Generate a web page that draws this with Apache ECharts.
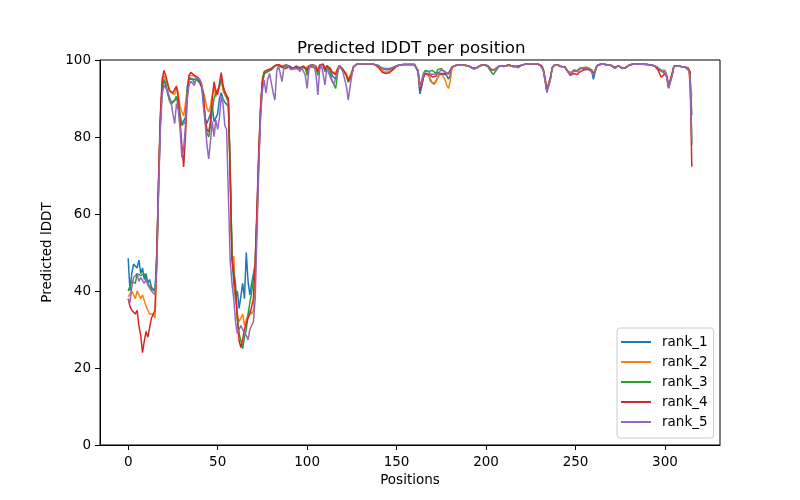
<!DOCTYPE html>
<html>
<head>
<meta charset="utf-8">
<script src="https://cdn.jsdelivr.net/npm/echarts@6/dist/echarts.min.js"></script>
<style>
html,body{margin:0;padding:0;background:#fff;}
#chart{width:800px;height:500px;}
</style>
</head>
<body>
<div id="chart"></div>
<script>
const seriesNames = ['rank_1','rank_2','rank_3','rank_4','rank_5'];
const colors = ['#1f77b4','#ff7f0e','#2ca02c','#d62728','#9467bd'];
const xTicks = [0,50,100,150,200,250,300];
const yTicks = [0,20,40,60,80,100];

const rank1 = [
48.5,40,44.5,47,47.5,46,48,44.5,46,43,
44.5,42,43,41,40.5,40,50,68,84,93,
94.5,93.5,91.5,90,89,88.5,89.5,90.5,88,85,
83.5,84,85,93,95.5,95.5,95,94.5,95,95,
94,93,90,85,83.5,84,86,88,84,83.5,
86,90,91.5,90,89,89,88,72,50,42,
38,40,35.5,36,42,38,50,42.5,39,42,
42,47,60,75,87,94,96.5,96.5,97,97.5,
97.5,97.5,98.5,98.8,98.8,98.5,98,98.5,98.7,98.7,
98.5,98,97.8,98,98.5,98.2,97.8,98.3,98.5,98,
97,98.5,98.8,98.8,98.5,98.3,96.5,98.5,98.8,98.8,
97,98.5,98.5,97.5,96,96.5,95,97.5,98.5,98.3,
97.5,97.3,96,94.5,95,96.5,98.3,98.8,99,99,
99,99,99,99,99,99,99,98.9,98.8,98.7,
98.5,98.2,97.8,97.5,97.5,97.3,97.5,97.7,98,98.3,
98.5,98.6,98.7,98.8,98.8,98.8,98.8,98.8,98.8,98.8,
98.8,98.7,97,91.2,93,95.5,96.5,97,96,94.5,
94,93.7,94,95.5,96.5,97,96.5,96,96,95,
96,98,98.5,98.6,98.7,98.7,98.7,98.7,98.6,98.6,
98.5,98.3,98,97.8,97.6,98,98.5,98.6,98.7,98.7,
98.7,98.5,98,97.4,97.3,97.5,98,98.3,98.5,98.5,
98.3,98.5,98.6,98.7,98.5,98.3,98.5,98.3,98,98.5,
98.7,98.8,98.9,99,99,99,99,99,99,98.9,
98.8,98.5,97.5,95,92,91.5,95.5,98,98.6,98.7,
98.7,98.5,98.3,98.5,98.2,97.5,97,96.2,96.5,97.2,
97.2,97,97.5,98,97.8,97.5,98,97.7,97.5,97.3,
95,97,98.5,98.8,98.9,98.9,98.9,98.8,98.7,98.6,
98.6,98.5,98,97.6,98.5,98.3,97.8,97.7,98,98.5,
98.7,98.8,98.9,98.9,98.9,98.9,98.9,98.9,98.9,98.8,
98.8,98.7,98.7,98.6,98.5,98.3,98,97.5,97.3,96.8,
97.3,96,93,92.5,96,98.4,98.5,98.5,98.4,98.3,
98,98.2,98.2,97.5,96.5,85.7
];

const rank2 = [
38.5,38,40,39.5,38,40,39,38,39,37.5,
36,35,34,33.5,34,33,47,68,85,94,
96,95.5,94,92.5,91.5,92,91,93,91.5,88,
86.5,85.5,86,92,96,96.5,96,95.5,95.5,95,
94.5,93.5,93,90,87.5,86.5,88,91,93,90.5,
90,93,95.5,92,91,91,89,70,48,49,
38,34,32,33,34,31,32.5,32,35,34,
35,45,58,74,87,94,96.5,96.5,97.3,97.5,
97.5,97.8,98.5,98.8,98.8,98.7,98.5,98.6,98.7,98.6,
98.3,97.8,97.5,98,98.3,98,97.5,98.2,98.3,98,
97.5,98.5,98.8,98.8,98.6,98.5,97.5,98.5,98.8,98.8,
97.5,98.5,98.5,97.8,96.8,96.5,96.8,97.8,98.5,98.3,
97.5,97.3,96.5,95,95.5,97,98.3,98.8,99,99,
99,99,99,99,99,99,99,98.9,98.8,98.6,
98.3,98,97.3,97,96.8,96.8,97,97.2,97.6,98,
98.4,98.6,98.7,98.8,98.8,98.8,98.8,98.8,98.8,98.8,
98.8,98.7,97.3,93,94,95.5,96.5,97,96,95,
94,94,94.2,95.5,96,96.5,96.5,95,93.5,92.6,
94.5,97.8,98.4,98.6,98.7,98.7,98.7,98.7,98.6,98.6,
98.5,98.3,98,97.8,97.8,98,98.5,98.6,98.7,98.7,
98.7,98.5,98,97.5,97.4,97.6,98,98.3,98.5,98.5,
98.3,98.5,98.6,98.7,98.5,98.3,98.5,98.3,98,98.5,
98.7,98.8,98.9,99,99,99,99,99,99,98.9,
98.8,98.5,97.5,95.2,92.3,92,95.5,98,98.6,98.7,
98.7,98.5,98.3,98.5,98.3,97.6,97,96.5,96.8,97.5,
97.5,97.2,97.8,98.2,98,97.8,98.2,98,97.8,97.6,
96.5,97.5,98.5,98.8,98.9,98.9,98.9,98.8,98.7,98.6,
98.6,98.5,98.1,97.8,98.5,98.3,98,97.8,98,98.5,
98.7,98.8,98.9,98.9,98.9,98.9,98.9,98.9,98.9,98.8,
98.8,98.7,98.7,98.6,98.5,98.3,98,97.6,97.3,97,
97.3,96,93.5,93.2,96.5,98.4,98.5,98.5,98.4,98.3,
98,98.2,98.2,98,97.5,90.5
];

const rank3 = [
40,39.5,42.5,43,42,44.5,45,44,43.5,44.5,
43,42,41.5,40.5,40,40,48,68,84,93,
95,94,91.5,89.5,88.5,89,89.5,90.5,89,86,
83,82.5,84,92,95,95.5,95,94,95,95.5,
94.5,93.5,91,84,81,80,83,87,90,91.5,
91,93,95,93,91.5,90.5,89,72,50,45,
42,33,29,27,25,28,30,34,37,39.5,
40,47,60,75,87,94,96.5,96.5,97,97.3,
97.5,97.5,98.5,98.8,98.8,98.5,98,98.5,98.7,98.6,
98.4,97.8,97.6,98,98.4,98,97.5,98.2,98.4,97.8,
96,98.3,98.8,98.8,98.5,98.2,96,98.3,98.8,98.8,
97,98.5,98.5,96.5,94.5,94,92.6,96.5,98.5,98.3,
97.5,97,96,94.2,95,96.5,98.3,98.8,99,99,
99,99,99,99,99,99,99,98.9,98.8,98.7,
98.5,98.2,97.8,97.6,97.6,97.5,97.6,97.8,98,98.3,
98.5,98.6,98.7,98.8,98.8,98.8,98.8,98.8,98.8,98.8,
98.8,98.7,97.3,93.5,94.5,96.5,97.3,97.5,97,97.2,
97.3,97,96.5,97.5,97.8,97.8,97.5,96.8,96.5,96.5,
96.8,98.2,98.5,98.6,98.7,98.7,98.7,98.7,98.6,98.6,
98.5,98.3,98,97.8,97.8,98,98.5,98.6,98.7,98.7,
98.7,98.3,97.5,96.8,96.2,96.5,97.5,98.3,98.5,98.5,
98.3,98.5,98.6,98.7,98.5,98.3,98.5,98.3,98,98.5,
98.7,98.8,98.9,99,99,99,99,99,99,98.9,
98.8,98.5,97.5,94.8,91.8,91.6,95,98,98.6,98.7,
98.7,98.5,98.3,98.5,98.2,97.4,97,96.2,96.6,97.3,
97.4,97.2,97.6,98,97.9,97.6,98,97.8,97.6,97.5,
96.2,97.2,98.5,98.8,98.9,98.9,98.9,98.8,98.7,98.6,
98.6,98.5,98.1,97.8,98.5,98.3,97.9,97.8,98,98.5,
98.7,98.8,98.9,98.9,98.9,98.9,98.9,98.9,98.9,98.8,
98.8,98.7,98.7,98.6,98.5,98.3,98,97.3,97,96.8,
97.2,95.8,92.8,92.5,96,98.4,98.5,98.5,98.4,98.3,
98,98.2,98.2,97.8,97,78
];

const rank4 = [
38,36,35,35.5,34,35,31,28.5,24,27,
29.5,28,30.5,33,32.5,35,50,70,86,95,
97.3,96,94,92,91.5,91.5,91,93.2,90,84,
78,72.2,80,90,96,96.8,96.5,96,95.8,95.5,
94.5,93,91,85,82,81.3,84,90,94.3,92,
91,94,96.7,93.5,91.7,91.5,90,70,48,44,
40,33,27,25.3,27.5,30,31.5,33,34,33.5,
38,48,62,77,88,95,97,97,97.5,97.5,
97.8,97.8,98.5,98.8,98.8,98.5,98.2,98,97.8,98,
98.3,98,97.8,98,98.3,98,97.8,98,98.3,98,
97.5,98.3,98.5,98.2,98,97.8,97,98.7,99,99,
97.5,98.5,98.5,97.8,96.8,96.3,96.2,97.5,98.5,98.3,
97.5,97,96,94.5,95,96.5,98.3,98.8,99,99,
99,99,99,99,99,99,99,98.9,98.7,98.5,
98,97.5,96.8,96.6,96.5,96.5,96.7,97,97.5,98,
98.4,98.6,98.7,98.8,98.8,98.8,98.8,98.8,98.8,98.8,
98.8,98.7,97,92.2,93.5,95.5,96.5,97,96.3,96,
95.6,95.5,95.8,96.8,96.8,96.3,96.2,96.5,96.8,96.5,
97,98.2,98.5,98.6,98.7,98.7,98.7,98.7,98.6,98.6,
98.5,98.3,98,97.8,97.6,98,98.5,98.6,98.7,98.7,
98.7,98.5,98,97.4,97.3,97.5,98,98.3,98.5,98.5,
98.3,98.5,98.6,98.7,98.5,98.3,98.5,98.3,98,98.5,
98.7,98.8,98.9,99,99,99,99,99,99,98.9,
98.8,98.5,97.5,95,92,91.5,95.5,98,98.6,98.7,
98.7,98.5,98.3,98.5,98.2,97.5,96.8,96,96.3,96.5,
96.2,96.2,96.8,97.3,97.3,97.2,97.6,97.5,97.3,97.2,
96.5,97.3,98.5,98.8,98.9,98.9,98.9,98.8,98.7,98.6,
98.6,98.4,97.8,97.4,98.5,98.3,97.8,97.7,98,98.5,
98.7,98.8,98.9,98.9,98.9,98.9,98.9,98.9,98.9,98.8,
98.8,98.7,98.7,98.6,98.5,98.2,97.5,96.5,95.5,95.2,
96.5,95.5,93,93.5,96.5,98.4,98.5,98.5,98.4,98.3,
98,98.2,98.2,97.8,96.8,72.3
];

const rank5 = [
38,37,41,43.5,43,44.5,42.5,43.5,44,42,
43,41.5,41,40,39.5,39,46,66,82,91,
93.5,94,92,90.5,89,86,83.5,88.7,87,82,
74.7,77,83,90,93.4,94.5,95,93.4,95.5,96,
95,94,88,84,78,74.3,79,84,80.1,84.4,
82,85,90.5,88.7,83,82,65,48,42,38,
32,29,30,31,30,30,28.5,27.3,30,30.5,
32,38,55,72,85,92,94.8,91.4,95,96.5,
96.5,91.5,89.6,97,98.5,98,94.4,98,98.5,98.5,
98.2,97.5,97.4,97.8,97.8,97.6,97,98,98.3,96,
92.6,97.5,98.8,98.8,98.5,96,90.9,97.5,98.8,98.8,
93.5,97.8,98.3,95.5,94.5,93.8,93.5,96.8,98.5,98.3,
97,96.5,93,89.6,93,96,98.3,98.8,99,99,
99,99,99,99,99,99,99,98.9,98.8,98.7,
98.5,98.2,97.9,97.8,97.8,97.7,97.8,97.9,98.1,98.3,
98.5,98.6,98.7,98.8,98.8,98.8,98.8,98.8,98.8,98.8,
98.8,98.7,97.2,93,94.5,96,97,97.4,97,96.3,
96,96.3,96.5,96.5,97,97.4,97.2,97,96.8,96.3,
97,98.2,98.5,98.6,98.7,98.7,98.7,98.7,98.6,98.6,
98.5,98.3,98,97.6,97.4,98,98.5,98.6,98.7,98.7,
98.7,98.5,98,97.3,97.2,97.4,98,98.3,98.5,98.5,
98.3,98.5,98.6,98.7,98.5,98.2,98.4,98.3,98,98.5,
98.7,98.8,98.9,99,99,99,99,99,99,98.9,
98.8,98.5,97.3,94.5,91.5,91.3,95,98,98.6,98.7,
98.7,98.5,98.3,98.5,98.2,97.5,97,96.2,96.6,97.3,
97.3,97,97.6,98,97.9,97.6,98,97.8,97.6,97.4,
96,97.2,98.5,98.8,98.9,98.9,98.9,98.8,98.7,98.6,
98.6,98.4,97.8,97.3,98.5,98.3,97.8,97.7,98,98.5,
98.7,98.8,98.9,98.9,98.9,98.9,98.9,98.9,98.9,98.8,
98.8,98.7,98.7,98.6,98.5,98.3,98,97.5,97.2,97,
97,95.5,92.6,92.3,96,98.4,98.5,98.5,98.4,98.3,
98,98.2,98.2,97.5,96,79
];

const allSeries = [rank1, rank2, rank3, rank4, rank5];
const positions = rank1.map((_, i) => i);

const chart = echarts.init(document.getElementById('chart'), null, {renderer: 'canvas'});
const font = 'DejaVu Sans';
chart.setOption({
  animation: false,
  backgroundColor: '#ffffff',
  title: {
    text: 'Predicted lDDT per position',
    left: 292, top: 35,
    textStyle: {fontFamily: font, fontSize: 16.7, fontWeight: 'normal', color: '#000'}
  },
  grid: {left: 100, right: 80, top: 60, bottom: 55, show: true, borderColor: '#000', borderWidth: 1, backgroundColor: 'transparent'},
  legend: {
    orient: 'vertical', left: 617, top: 328,
    data: seriesNames,
    icon: 'rect', itemWidth: 30, itemHeight: 2, itemGap: 6,
    padding: [7, 6, 9, 4],
    backgroundColor: 'rgba(255,255,255,0.8)', borderColor: '#cccccc', borderWidth: 1, borderRadius: 3,
    textStyle: {fontFamily: font, fontSize: 13.5, color: '#000', lineHeight: 14, padding: [0, 0, 0, 6]}
  },
  xAxis: {
    type: 'value', min: -15.75, max: 330.75,
    name: 'Positions', nameLocation: 'middle', nameGap: 28,
    nameTextStyle: {fontFamily: font, fontSize: 13.5, color: '#000'},
    axisLine: {show: true, onZero: false, lineStyle: {color: '#000', width: 1}},
    axisTick: {show: true, length: 5, customValues: xTicks, lineStyle: {color: '#000'}},
    axisLabel: {customValues: xTicks, margin: 10, fontFamily: font, fontSize: 13.5, color: '#000'},
    splitLine: {show: false}
  },
  yAxis: {
    type: 'value', min: 0, max: 100, interval: 20,
    name: 'Predicted lDDT', nameLocation: 'middle', nameGap: 37,
    nameTextStyle: {fontFamily: font, fontSize: 13.5, color: '#000'},
    axisLine: {show: true, onZero: false, lineStyle: {color: '#000', width: 1}},
    axisTick: {show: true, length: 5, lineStyle: {color: '#000'}},
    axisLabel: {margin: 9, fontFamily: font, fontSize: 13.5, color: '#000'},
    splitLine: {show: false}
  },
  series: allSeries.map((arr, k) => ({
    name: seriesNames[k],
    type: 'line',
    data: positions.map((p, i) => [p, arr[i]]),
    symbol: 'none',
    color: colors[k],
    lineStyle: {width: 1.5, color: colors[k]},
    z: 2 + k
  }))
});
</script>
</body>
</html>
